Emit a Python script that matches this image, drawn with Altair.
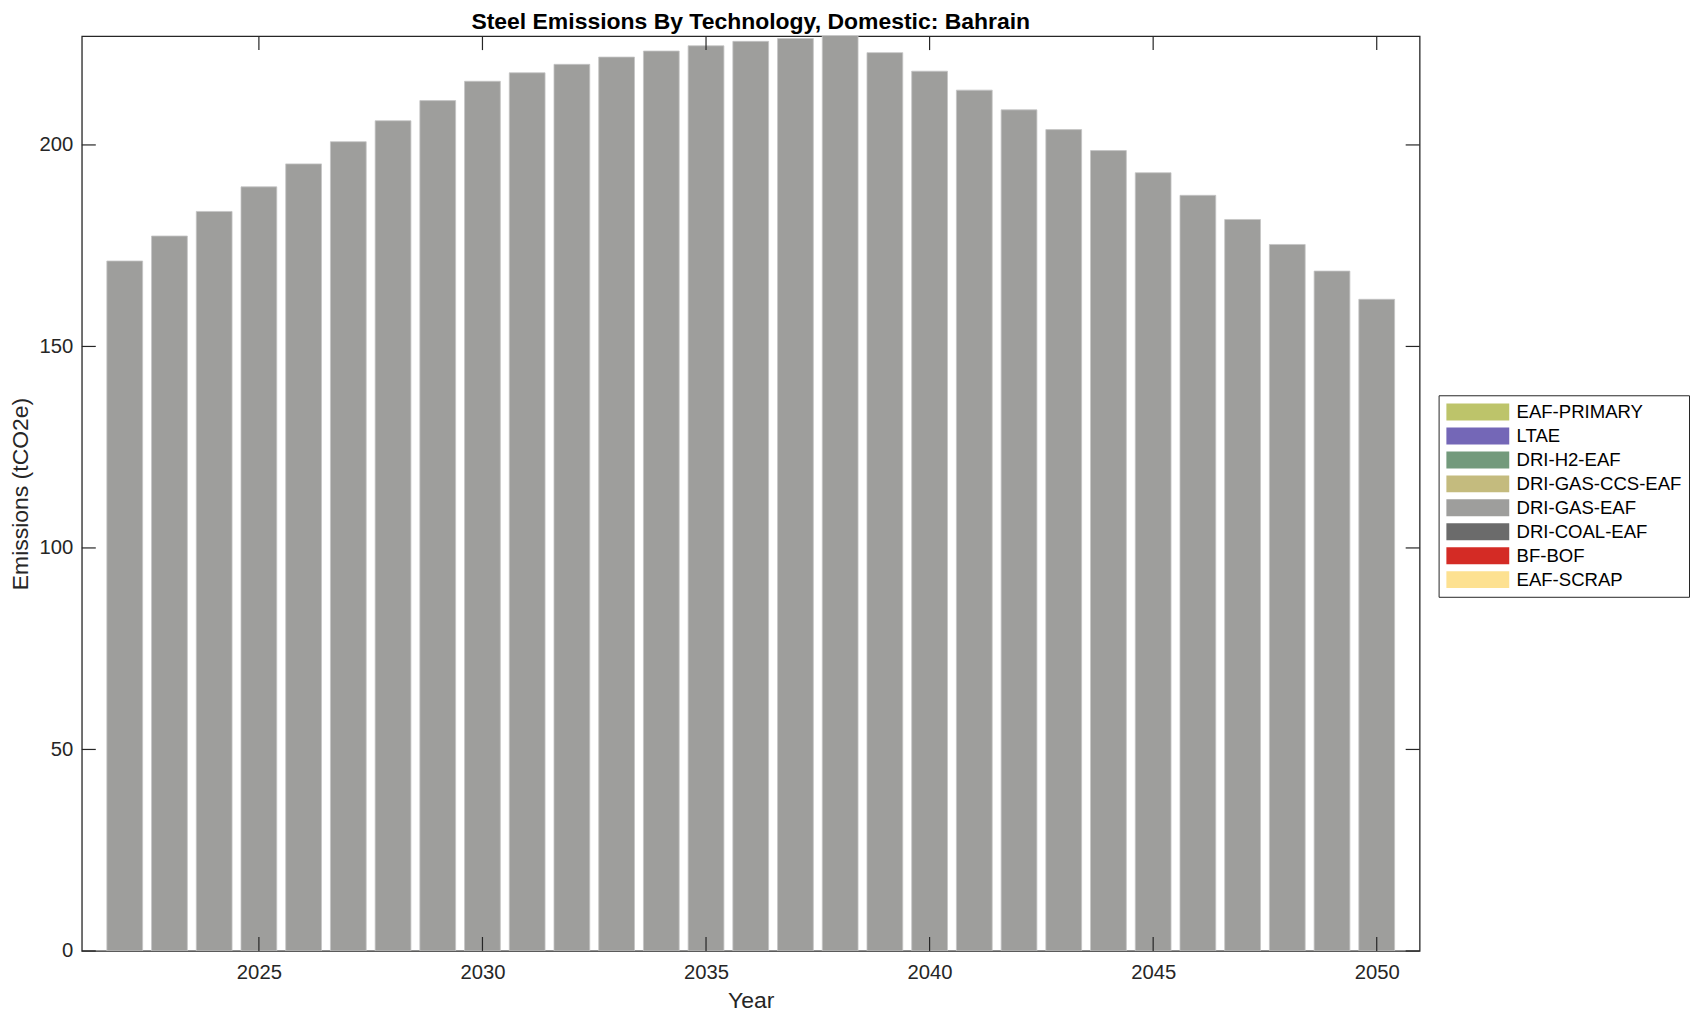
import altair as alt
import pandas as pd

# ---- data ----
years = list(range(2022, 2051))
techs = ["EAF-PRIMARY", "LTAE", "DRI-H2-EAF", "DRI-GAS-CCS-EAF",
         "DRI-GAS-EAF", "DRI-COAL-EAF", "BF-BOF", "EAF-SCRAP"]
tech_colors = ["#bdc46a", "#7467b7", "#739a7c", "#c4bb7e",
               "#9e9e9c", "#6b6b6b", "#d42b25", "#fde191"]

eaf_primary = [0.0] * 29
ltae = [0.0] * 29
dri_h2_eaf = [0.0] * 29
dri_gas_ccs_eaf = [0.0] * 29
dri_gas_eaf = [171.2, 177.4, 183.5, 189.6, 195.3, 200.8, 206.0, 211.0, 215.8,
               217.9, 220.0, 221.8, 223.3, 224.6, 225.7, 226.4, 227.5, 222.9,
               218.3, 213.6, 208.7, 203.8, 198.6, 193.1, 187.5, 181.5, 175.3,
               168.7, 161.7]
dri_coal_eaf = [0.0] * 29
bf_bof = [0.0] * 29
eaf_scrap = [0.0] * 29

y_ticks = [0, 50, 100, 150, 200]
x_ticks = [2025, 2030, 2035, 2040, 2045, 2050]

series = {
    "EAF-PRIMARY": eaf_primary, "LTAE": ltae, "DRI-H2-EAF": dri_h2_eaf,
    "DRI-GAS-CCS-EAF": dri_gas_ccs_eaf, "DRI-GAS-EAF": dri_gas_eaf,
    "DRI-COAL-EAF": dri_coal_eaf, "BF-BOF": bf_bof, "EAF-SCRAP": eaf_scrap,
}
rows = []
for t in techs:
    for y, v in zip(years, series[t]):
        rows.append({"year": y, "tech": t, "value": v, "order": techs.index(t)})
df = pd.DataFrame(rows)

W, H = 1341, 917
TICK = 14
FONT = "Liberation Sans"
AX = "#262626"

xscale = alt.Scale(domain=[2021.04, 2050.96], nice=False, zero=False)
yscale = alt.Scale(domain=[0, 227], nice=False)

xaxis = alt.Axis(values=x_ticks, format="d", title="Year", grid=False,
                 ticks=False, domain=False, labelPadding=12, titlePadding=6)
yaxis = alt.Axis(values=y_ticks, title="Emissions (tCO2e)", grid=False,
                 ticks=False, domain=False, labelPadding=9, titlePadding=7)

bars = alt.Chart(df).transform_stack(
    stack="value", groupby=["year"], as_=["y0", "y1"],
    sort=[alt.SortField("order")]
).transform_filter(
    alt.datum.value > 0
).transform_calculate(
    x0="datum.year - 0.4", x1="datum.year + 0.4"
).mark_rect(clip=True, stroke="#c4c4c4", strokeWidth=0.8).encode(
    x=alt.X("x0:Q", scale=xscale, axis=xaxis),
    x2="x1:Q",
    y=alt.Y("y1:Q", scale=yscale, axis=yaxis),
    y2="y0:Q",
    color=alt.Color("tech:N",
                    scale=alt.Scale(domain=techs, range=tech_colors),
                    legend=alt.Legend(orient="none", legendX=1360, legendY=360,
                                      title=None,
                                      symbolType="M-1,-0.944H6V0.944H-1Z",
                                      symbolSize=324, symbolStrokeWidth=0,
                                      symbolOpacity=1,
                                      labelFontSize=18.6, labelFont=FONT,
                                      labelColor="black", labelOffset=52,
                                      labelLimit=400, padding=7.5, rowPadding=5,
                                      strokeColor=AX, fillColor="white")),
)

ydf = pd.DataFrame({"v": y_ticks})
xdf = pd.DataFrame({"t": x_ticks})

yl = alt.Chart(ydf).mark_rule(color=AX, strokeWidth=1.2).encode(
    y=alt.Y("v:Q", scale=yscale, axis=yaxis), x=alt.value(0), x2=alt.value(TICK))
yr = alt.Chart(ydf).mark_rule(color=AX, strokeWidth=1.2).encode(
    y=alt.Y("v:Q", scale=yscale, axis=yaxis), x=alt.value(W - TICK), x2=alt.value(W))
xb = alt.Chart(xdf).mark_rule(color=AX, strokeWidth=1.2).encode(
    x=alt.X("t:Q", scale=xscale, axis=xaxis), y=alt.value(H - TICK), y2=alt.value(H))
xt = alt.Chart(xdf).mark_rule(color=AX, strokeWidth=1.2).encode(
    x=alt.X("t:Q", scale=xscale, axis=xaxis), y=alt.value(0), y2=alt.value(TICK))

chart = alt.layer(bars, yl, yr, xb, xt).properties(
    width=W, height=H,
    background="white",
    title=alt.TitleParams("Steel Emissions By Technology, Domestic: Bahrain",
                          fontSize=23, fontWeight="bold", font=FONT,
                          anchor="middle", offset=2, color="black"),
    autosize=alt.AutoSizeParams(type="none"),
    padding={"left": 74, "top": 27, "right": 275, "bottom": 60},
).configure_view(
    stroke=AX, strokeWidth=1.3
).configure_axis(
    labelFont=FONT, titleFont=FONT, labelFontSize=20.3, titleFontSize=23,
    titleFontWeight="normal", labelColor=AX, titleColor=AX
)

chart.save("out.html", embed_options={"renderer": "svg", "actions": False})
